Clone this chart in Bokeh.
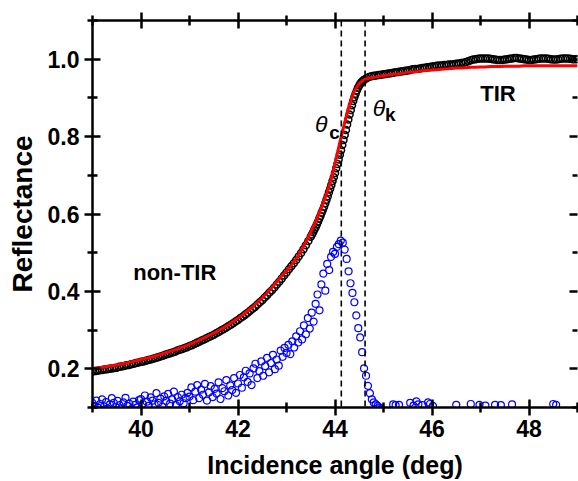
import numpy as np
from bokeh.plotting import figure
from bokeh.models import (Range1d, FixedTicker, LinearAxis, Span, Label,
                          PrintfTickFormatter, CustomJSTickFormatter)
from bokeh.embed import file_html
from bokeh.resources import INLINE

# ---------------- data ----------------
# measured reflectance (black open circles), x from 39.00 to 49.00 step 0.05
black_start, black_step = 39.0, 0.05
black_vals = [
    0.193, 0.194, 0.195, 0.196, 0.197, 0.198, 0.199, 0.200, 0.201, 0.202,   # 39.0
    0.203, 0.205, 0.206, 0.207, 0.209, 0.210, 0.212, 0.213, 0.215, 0.216,   # 39.5
    0.218, 0.219, 0.221, 0.223, 0.224, 0.226, 0.228, 0.230, 0.232, 0.234,   # 40.0
    0.236, 0.238, 0.240, 0.242, 0.244, 0.247, 0.249, 0.251, 0.254, 0.256,   # 40.5
    0.259, 0.261, 0.264, 0.267, 0.270, 0.273, 0.276, 0.279, 0.282, 0.285,   # 41.0
    0.288, 0.292, 0.295, 0.299, 0.302, 0.306, 0.310, 0.314, 0.318, 0.322,   # 41.5
    0.326, 0.331, 0.335, 0.340, 0.345, 0.350, 0.355, 0.360, 0.366, 0.372,   # 42.0
    0.377, 0.384, 0.390, 0.397, 0.403, 0.410, 0.418, 0.425, 0.433, 0.441,   # 42.5
    0.449, 0.457, 0.465, 0.473, 0.481, 0.490, 0.499, 0.509, 0.519, 0.530,   # 43.0
    0.541, 0.553, 0.566, 0.580, 0.595, 0.611, 0.628, 0.646, 0.665, 0.685,   # 43.5
    0.706, 0.729, 0.753, 0.778, 0.804, 0.831, 0.857, 0.881, 0.902, 0.919,   # 44.0
    0.932, 0.941, 0.947, 0.951, 0.954, 0.956, 0.957, 0.958, 0.959, 0.960,   # 44.5
    0.961, 0.962, 0.963, 0.964, 0.965, 0.966, 0.967, 0.968, 0.969, 0.970,   # 45.0
    0.971, 0.972, 0.974, 0.975, 0.975, 0.976, 0.977, 0.978, 0.979, 0.980,   # 45.5
    0.981, 0.982, 0.983, 0.984, 0.984, 0.985, 0.985, 0.986, 0.986, 0.987,   # 46.0
    0.988, 0.989, 0.990, 0.991, 0.993, 0.995, 0.997, 0.999, 1.000, 1.001,   # 46.5
    1.002, 1.002, 1.002, 1.002, 1.001, 1.000, 0.999, 0.998, 0.998, 0.998,   # 47.0
    0.999, 1.000, 1.001, 1.002, 1.003, 1.003, 1.002, 1.001, 1.000, 0.999,   # 47.5
    0.998, 0.998, 0.999, 1.000, 1.001, 1.002, 1.002, 1.002, 1.001, 1.000,   # 48.0
    0.999, 0.999, 1.000, 1.001, 1.002, 1.002, 1.002, 1.001, 1.000, 1.000,   # 48.5
    1.000,                                                                  # 49.0
]
# additional measured points read in the steep part (43.525 ... 44.575, step 0.05)
steep_start, steep_step = 43.525, 0.05
steep_vals = [
    0.547, 0.560, 0.573, 0.588, 0.603, 0.619, 0.637, 0.656, 0.675, 0.695,
    0.718, 0.741, 0.765, 0.791, 0.817, 0.844, 0.869, 0.892, 0.911, 0.926,
    0.937, 0.944,
]

# fitted reflectance (red line), x from 39.0 to 49.0 step 0.1
fit_start, fit_step = 39.0, 0.1
fit_vals = [
    0.200, 0.202, 0.204, 0.206, 0.208, 0.210, 0.213, 0.215, 0.218, 0.221,   # 39
    0.224, 0.227, 0.230, 0.233, 0.237, 0.241, 0.245, 0.249, 0.254, 0.258,   # 40
    0.263, 0.268, 0.274, 0.280, 0.286, 0.292, 0.299, 0.306, 0.314, 0.322,   # 41
    0.331, 0.340, 0.350, 0.360, 0.371, 0.383, 0.396, 0.410, 0.425, 0.440,   # 42
    0.452, 0.468, 0.485, 0.505, 0.528, 0.553, 0.580, 0.610, 0.643, 0.680,   # 43
    0.730, 0.785, 0.836, 0.884, 0.918, 0.938, 0.947, 0.951, 0.953, 0.955,   # 44
    0.957, 0.959, 0.961, 0.962, 0.964, 0.966, 0.967, 0.968, 0.970, 0.971,   # 45
    0.972, 0.973, 0.974, 0.975, 0.976, 0.977, 0.977, 0.978, 0.979, 0.979,   # 46
    0.980, 0.980, 0.981, 0.981, 0.981, 0.982, 0.982, 0.982, 0.982, 0.983,   # 47
    0.983, 0.983, 0.983, 0.983, 0.983, 0.983, 0.983, 0.983, 0.983, 0.983,   # 48
    0.983,                                                                  # 49
]

# difference signal (blue open circles), x from 39.00 step 0.04 up to 44.96
blue_start, blue_step = 39.0, 0.04
blue_vals = [
    0.112, 0.104, 0.118, 0.099, 0.109, 0.121, 0.103, 0.114, 0.097, 0.108,
    0.124, 0.112, 0.101, 0.117, 0.106, 0.098, 0.113, 0.125, 0.104, 0.110,
    0.096, 0.115, 0.107, 0.100, 0.119,                                      # 39
    0.122, 0.109, 0.131, 0.115, 0.104, 0.126, 0.118, 0.108, 0.137, 0.112,
    0.123, 0.102, 0.129, 0.117, 0.135, 0.110, 0.121, 0.141, 0.106, 0.127,
    0.116, 0.133, 0.111, 0.124, 0.138,                                      # 40
    0.128, 0.152, 0.119, 0.141, 0.158, 0.124, 0.146, 0.133, 0.161, 0.118,
    0.139, 0.155, 0.127, 0.148, 0.136, 0.165, 0.122, 0.150, 0.142, 0.171,
    0.131, 0.157, 0.145, 0.176, 0.138,                                      # 41
    0.162, 0.184, 0.151, 0.178, 0.195, 0.166, 0.188, 0.158, 0.201, 0.213,
    0.176, 0.194, 0.219, 0.182, 0.207, 0.228, 0.191, 0.215, 0.236, 0.199,
    0.224, 0.208, 0.247, 0.231, 0.254,                                      # 42
    0.241, 0.262, 0.238, 0.271, 0.255, 0.284, 0.268, 0.297, 0.276, 0.312,
    0.289, 0.331, 0.304, 0.345, 0.322, 0.368, 0.392, 0.351, 0.418, 0.446,
    0.402, 0.471, 0.455, 0.489, 0.502,                                      # 43
    0.497, 0.515, 0.522, 0.531, 0.526, 0.508, 0.484, 0.452, 0.421, 0.396,
    0.372, 0.338, 0.305, 0.281, 0.243, 0.201, 0.182, 0.156, 0.137, 0.121,
    0.113, 0.108, 0.104, 0.099, 0.096,                                      # 44
]
# sparse difference points above the axis in the TIR region
blue_tail_x = [45.20, 45.25, 45.32, 45.55, 45.62, 45.68, 45.72, 45.80, 45.92, 45.96,
               46.02, 46.50, 46.80, 46.98, 47.10, 47.30, 47.42, 47.65, 48.50, 48.56]
blue_tail_y = [0.108, 0.106, 0.107, 0.112, 0.105, 0.116, 0.108, 0.106, 0.113, 0.109,
               0.104, 0.107, 0.109, 0.107, 0.105, 0.107, 0.106, 0.108, 0.109, 0.107]

# critical angle markers (dashed lines)
marker_angles = [44.13, 44.62]

x_major = [40, 42, 44, 46, 48]
x_minor = [39, 41, 43, 45, 47, 49]
y_major = [0.2, 0.4, 0.6, 0.8, 1.0]
y_minor = [0.1, 0.3, 0.5, 0.7, 0.9, 1.1]

black_x = ([round(black_start + i * black_step, 3) for i in range(len(black_vals))]
           + [round(steep_start + i * steep_step, 3) for i in range(len(steep_vals))])
black_y = black_vals + steep_vals
fit_x = [round(fit_start + i * fit_step, 3) for i in range(len(fit_vals))]
blue_x = [round(blue_start + i * blue_step, 3) for i in range(len(blue_vals))] + blue_tail_x
blue_y = blue_vals + blue_tail_y

# ---------------- figure ----------------
FONT = "Liberation Sans"
p = figure(width=578, height=481, output_backend="svg", toolbar_location=None,
           x_range=Range1d(39, 49), y_range=Range1d(0.1, 1.1),
           min_border_left=92, min_border_right=1, min_border_top=20,
           min_border_bottom=73, x_axis_location=None, y_axis_location=None)
p.grid.visible = False
p.outline_line_color = None
p.background_fill_color = "white"
p.border_fill_color = "white"

blank = CustomJSTickFormatter(code="return '';")


def style_axis(ax, ticks, minors, show_labels, tick_out=8, minor_out=5):
    ax.ticker = FixedTicker(ticks=ticks, minor_ticks=minors)
    ax.axis_line_width = 2.5
    ax.axis_line_color = "black"
    ax.major_tick_line_width = 2.5
    ax.minor_tick_line_width = 2.5
    ax.major_tick_line_color = "black"
    ax.minor_tick_line_color = "black"
    ax.major_tick_in = 8
    ax.major_tick_out = tick_out
    ax.minor_tick_in = 5
    ax.minor_tick_out = minor_out
    ax.major_label_text_font = FONT
    ax.major_label_text_font_style = "bold"
    ax.major_label_text_font_size = "23px"
    ax.major_label_text_color = "black"
    if not show_labels:
        ax.formatter = blank
        ax.major_label_standoff = 0


xb = LinearAxis()
style_axis(xb, x_major, x_minor, True)
xb.major_label_standoff = 4
xb.axis_label = "Incidence angle (deg)"
xb.axis_label_text_font = FONT
xb.axis_label_text_font_style = "bold"
xb.axis_label_text_font_size = "25px"
xb.axis_label_text_color = "black"
xb.axis_label_text_line_height = 0.8
xb.axis_label_standoff = 11
p.add_layout(xb, "below")

xt = LinearAxis()
style_axis(xt, x_major, x_minor, False)
p.add_layout(xt, "above")

yl = LinearAxis(formatter=PrintfTickFormatter(format="%.1f"))
style_axis(yl, y_major, y_minor, True)
yl.major_label_standoff = 5
yl.axis_label = "Reflectance"
yl.axis_label_text_font = FONT
yl.axis_label_text_font_style = "bold"
yl.axis_label_text_font_size = "28px"
yl.axis_label_text_color = "black"
yl.axis_label_standoff = 7
p.add_layout(yl, "left")

yr = LinearAxis()
style_axis(yr, y_major, y_minor, False, tick_out=0, minor_out=0)
yr.axis_line_color = None
p.add_layout(yr, "right")

# ---------------- glyphs ----------------
p.scatter(black_x, black_y, marker="circle", size=7, fill_color=None,
          line_color="black", line_width=1.5)
p.line(fit_x, fit_vals, line_color="#ff0000", line_width=3)
p.scatter(blue_x, blue_y, marker="circle", size=7, fill_color=None,
          line_color="#0000ff", line_width=1.2)

for a in marker_angles:
    p.add_layout(Span(location=a, dimension="height", line_color="black",
                      line_width=1.6, line_dash="6 4"))

# ---------------- texts ----------------
def add_label(x, y, text, size, style="bold", align="left"):
    p.add_layout(Label(x=x, y=y, text=text, text_font=FONT,
                       text_font_style=style, text_font_size=size,
                       text_color="black", text_align=align,
                       text_baseline="alphabetic"))

add_label(47.36, 0.912, "TIR", "22px", align="center")
add_label(39.84, 0.448, "non-TIR", "22px")
add_label(43.59, 0.833, "θ", "23px", style="italic")
add_label(43.88, 0.810, "c", "19px")
add_label(44.78, 0.874, "θ", "23px", style="italic")
add_label(45.03, 0.857, "k", "19px")

html = file_html(p, INLINE)
open("out.html", "w").write(html)
